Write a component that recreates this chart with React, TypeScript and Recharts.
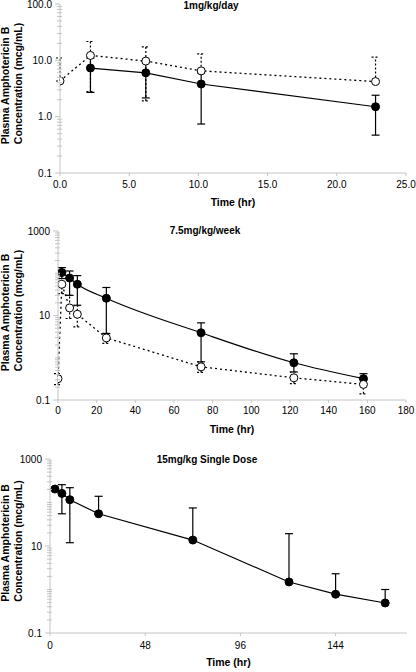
import React from "react";
import { LineChart, Line, XAxis, YAxis, ErrorBar } from "recharts";

// Panel 1: 1mg/kg/day
const dailyTimes = [0, 2.2, 6.2, 10.2, 22.8];
const dailyFilled = [null, 7.3, 6.0, 3.8, 1.5];
const dailyFilledLow = [null, 2.7, 2.15, 0.74, 0.47];
const dailyFilledHigh = [null, 11, 9.5, 6.0, 2.4];
const dailyOpen = [4.3, 12.2, 9.7, 6.5, 4.2];
const dailyOpenLow = [4.3, 2.8, 1.9, 6.5, 4.2];
const dailyOpenHigh = [11, 21.6, 17.4, 13, 11.4];
const dailyXTicks = [0, 5, 10, 15, 20, 25];
const dailyYMajors = [0.1, 1, 10, 100];
const dailyYLabels = ["0.1", "1.0", "10.0", "100.0"];

// Panel 2: 7.5mg/kg/week
const weeklyTimes = [0, 2, 6, 10, 25, 74, 122, 158];
const weeklyFilled = [null, 104, 77, 55, 25.6, 3.9, 0.76, 0.32];
const weeklyFilledLow = [null, 75, 30, 17.5, 3.75, 0.8, 0.46, 0.32];
const weeklyFilledHigh = [null, 136, 113, 88, 46, 6.7, 1.24, 0.42];
const weeklyOpen = [0.32, 55, 15.1, 10.7, 2.95, 0.61, 0.335, 0.234];
const weeklyOpenLow = [0.23, 33, 8.5, 5.4, 2.2, 0.45, 0.245, 0.14];
const weeklyOpenHigh = [0.42, 55, 30, 17, 3.8, 0.8, 0.46, 0.234];
const weeklyXTicks = [0, 20, 40, 60, 80, 100, 120, 140, 160, 180];
const weeklyYMajors = [0.1, 10, 1000];
const weeklyYLabels = ["0.1", "10", "1000"];

// Panel 3: 15mg/kg Single Dose
const singleTimes = [2.5, 6, 10, 24.5, 72, 120.5, 144, 169];
const singleConc = [204, 162, 116, 55, 13.7, 1.49, 0.78, 0.49];
const singleLow = [204, 55, 11.9, 55, 13.7, 1.49, 0.78, 0.49];
const singleHigh = [204, 257, 219, 139, 75, 19.2, 2.3, 1.0];
const singleXTicks = [0, 48, 96, 144];

const AXIS_GRAY = "#c4c4c4";
const FONT = "'Liberation Sans', Arial, sans-serif";
const Y_TICK_SIZE = 5;
const Y_TICK_MARGIN = 3;

type Num = number | null;

function buildRows(
  times: number[],
  filled: Num[],
  filledLow: Num[],
  filledHigh: Num[],
  open?: Num[],
  openLow?: Num[],
  openHigh?: Num[]
) {
  return times.map((t, i) => {
    const f = filled[i];
    const o = open ? open[i] : null;
    return {
      time: t,
      filled: f,
      filledErr: f == null ? null : [f - (filledLow[i] as number), (filledHigh[i] as number) - f],
      open: o,
      openErr: o == null ? null : [o - (openLow![i] as number), (openHigh![i] as number) - o],
    };
  });
}

// every 1..9 x 10^n between the two exponents (Excel-style minor ticks)
function logTicks(minExp: number, maxExp: number) {
  const out: number[] = [];
  for (let e = minExp; e < maxExp; e++) {
    for (let k = 1; k < 10; k++) out.push(k * Math.pow(10, e));
  }
  out.push(Math.pow(10, maxExp));
  return out;
}

function LogTick(props: any) {
  const { x, y, payload, majors, labels } = props;
  const axisX = x + Y_TICK_SIZE + Y_TICK_MARGIN;
  const idx = majors.findIndex((m: number) => Math.abs(m - payload.value) < m * 1e-6);
  if (idx < 0) {
    return <line x1={axisX - 3} x2={axisX + 2} y1={y} y2={y} stroke={AXIS_GRAY} />;
  }
  return (
    <g>
      <line x1={axisX - Y_TICK_SIZE} x2={axisX} y1={y} y2={y} stroke={AXIS_GRAY} />
      <text x={x} y={y} dy={3.5} textAnchor="end" fontSize={10} fill="#000">
        {labels[idx]}
      </text>
    </g>
  );
}

interface PanelProps {
  top: number;
  height: number;
  marginTop: number;
  plotHeight: number;
  yAxisWidth: number;
  rightMargin: number;
  title: string;
  titleX: number;
  titleY: number;
  rows: any[];
  xDomain: [number, number];
  xTicks: number[];
  xFormat: (v: number) => string;
  xTickMargin: number;
  yDomain: [number, number];
  yTicks: number[];
  yMajors: number[];
  yLabels: string[];
  hasOpen: boolean;
  filledCurve: "linear" | "monotone";
}

function Panel(p: PanelProps) {
  const plotLeft = p.yAxisWidth;
  const plotRight = 416 - p.rightMargin;
  const plotMidX = (plotLeft + plotRight) / 2;
  const plotMidY = p.marginTop + p.plotHeight / 2;
  const xAxisHeight = p.height - p.marginTop - p.plotHeight;

  const yTitle = () => (
    <g fontWeight="bold" fontSize={10.5} fill="#000">
      <text x={5} y={plotMidY - 3} transform={`rotate(-90 5 ${plotMidY - 3})`} textAnchor="middle" dominantBaseline="central">
        Plasma Amphotericin B
      </text>
      <text x={18} y={plotMidY - 5} transform={`rotate(-90 18 ${plotMidY - 5})`} textAnchor="middle" dominantBaseline="central">
        Concentration (mcg/mL)
      </text>
    </g>
  );

  const xTitle = () => (
    <text x={plotMidX} y={p.marginTop + p.plotHeight + 33} textAnchor="middle" fontWeight="bold" fontSize={10.5} fill="#000">
      Time (hr)
    </text>
  );

  return (
    <div style={{ position: "absolute", left: 0, top: p.top, width: 416, height: p.height }}>
      <LineChart
        width={416}
        height={p.height}
        data={p.rows}
        margin={{ top: p.marginTop, right: p.rightMargin, bottom: 0, left: 0 }}
      >
        <XAxis
          type="number"
          dataKey="time"
          domain={p.xDomain}
          ticks={p.xTicks}
          interval={0}
          allowDataOverflow
          tickFormatter={p.xFormat}
          tick={{ fontSize: 10, fill: "#000" }}
          tickSize={3}
          tickMargin={p.xTickMargin}
          stroke={AXIS_GRAY}
          height={xAxisHeight}
          label={{ content: xTitle }}
        />
        <YAxis
          scale="log"
          domain={p.yDomain}
          allowDataOverflow
          ticks={p.yTicks}
          interval={0}
          width={p.yAxisWidth}
          tickSize={Y_TICK_SIZE}
          tickMargin={Y_TICK_MARGIN}
          tickLine={false}
          stroke={AXIS_GRAY}
          tick={(tp: any) => <LogTick {...tp} majors={p.yMajors} labels={p.yLabels} />}
          label={{ content: yTitle }}
        />
        <Line
          type={p.filledCurve}
          dataKey="filled"
          stroke="#000"
          strokeWidth={1.2}
          dot={{ r: 4, fill: "#000", stroke: "#000", strokeWidth: 1 }}
          activeDot={false}
          isAnimationActive={false}
        >
          <ErrorBar dataKey="filledErr" direction="y" width={4} stroke="#000" strokeWidth={1.2} />
        </Line>
        {p.hasOpen && (
          <Line
            type="linear"
            dataKey="open"
            stroke="#000"
            strokeWidth={1.3}
            strokeDasharray="2 3"
            dot={{ r: 4, fill: "#fff", stroke: "#000", strokeWidth: 1, strokeDasharray: "0" }}
            activeDot={false}
            isAnimationActive={false}
          >
            <ErrorBar dataKey="openErr" direction="y" width={4} stroke="#000" strokeWidth={1.2} strokeDasharray="2 2" />
          </Line>
        )}
      </LineChart>
      <div
        style={{
          position: "absolute",
          left: p.titleX,
          top: p.titleY,
          transform: "translate(-50%, -50%)",
          fontWeight: "bold",
          fontSize: 10,
          whiteSpace: "nowrap",
          lineHeight: 1,
        }}
      >
        {p.title}
      </div>
    </div>
  );
}

export default function App() {
  const dailyRows = buildRows(dailyTimes, dailyFilled, dailyFilledLow, dailyFilledHigh, dailyOpen, dailyOpenLow, dailyOpenHigh);
  const weeklyRows = buildRows(weeklyTimes, weeklyFilled, weeklyFilledLow, weeklyFilledHigh, weeklyOpen, weeklyOpenLow, weeklyOpenHigh);
  const singleRows = buildRows(singleTimes, singleConc, singleLow, singleHigh);

  return (
    <div
      style={{
        position: "absolute",
        left: 0,
        top: 0,
        width: 416,
        height: 672,
        background: "#fff",
        fontFamily: FONT,
      }}
    >
      <Panel
        top={0}
        height={215}
        marginTop={4}
        plotHeight={169}
        yAxisWidth={60}
        rightMargin={10}
        title="1mg/kg/day"
        titleX={211}
        titleY={6}
        rows={dailyRows}
        xDomain={[0, 25]}
        xTicks={dailyXTicks}
        xFormat={(v) => v.toFixed(1)}
        xTickMargin={5}
        yDomain={[0.1, 100]}
        yTicks={logTicks(-1, 2)}
        yMajors={dailyYMajors}
        yLabels={dailyYLabels}
        hasOpen
        filledCurve="linear"
      />
      <Panel
        top={215}
        height={225}
        marginTop={16}
        plotHeight={169}
        yAxisWidth={58}
        rightMargin={10}
        title="7.5mg/kg/week"
        titleX={205}
        titleY={16}
        rows={weeklyRows}
        xDomain={[0, 180]}
        xTicks={weeklyXTicks}
        xFormat={(v) => String(v)}
        xTickMargin={4}
        yDomain={[0.1, 1000]}
        yTicks={logTicks(-1, 3)}
        yMajors={weeklyYMajors}
        yLabels={weeklyYLabels}
        hasOpen
        filledCurve="monotone"
      />
      <Panel
        top={440}
        height={232}
        marginTop={19}
        plotHeight={174}
        yAxisWidth={50}
        rightMargin={9}
        title="15mg/kg Single Dose"
        titleX={207}
        titleY={20}
        rows={singleRows}
        xDomain={[0, 180]}
        xTicks={singleXTicks}
        xFormat={(v) => String(v)}
        xTickMargin={6}
        yDomain={[0.1, 1000]}
        yTicks={logTicks(-1, 3)}
        yMajors={weeklyYMajors}
        yLabels={weeklyYLabels}
        hasOpen={false}
        filledCurve="linear"
      />
    </div>
  );
}
